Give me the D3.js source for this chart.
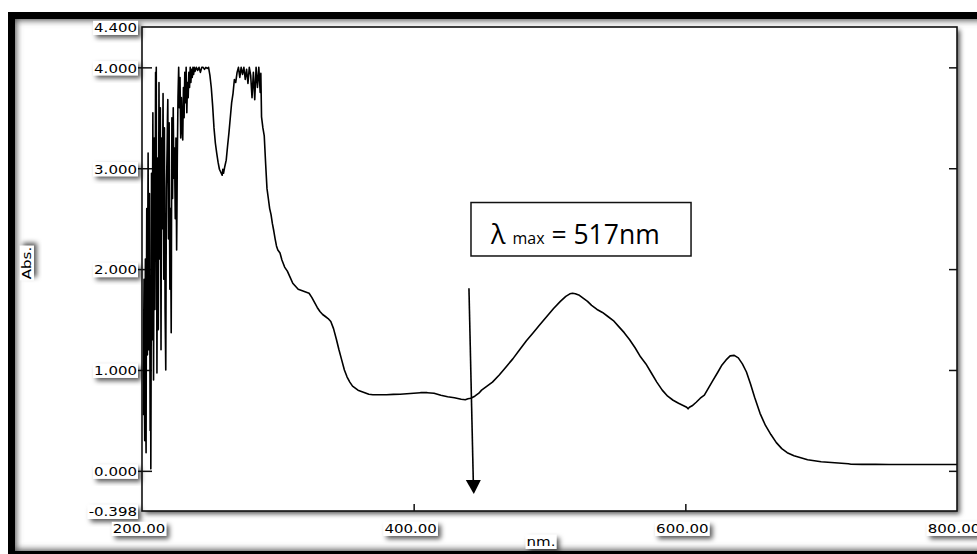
<!DOCTYPE html>
<html><head><meta charset="utf-8">
<script src="https://cdn.jsdelivr.net/npm/d3@7"></script>
<style>html,body{margin:0;padding:0;background:#fff;overflow:hidden}svg{display:block}</style>
</head><body>
<svg id="chart" width="977" height="554"></svg>
<script>
// UV-Vis absorption spectrum (wavelength in nm, absorbance)
// 201-226 nm: noisy, near-saturated region sampled every 0.25 nm
const wavelengthNm = [
  201.00,201.25,201.50,201.75,202.00,202.25,202.50,202.75,203.00,203.25,203.50,203.75,
  204.00,204.25,204.50,204.75,205.00,205.25,205.50,205.75,206.00,206.25,206.50,206.75,
  207.00,207.25,207.50,207.75,208.00,208.25,208.50,208.75,209.00,209.25,209.50,209.75,
  210.00,210.25,210.50,210.75,211.00,211.25,211.50,211.75,212.00,212.25,212.50,212.75,
  213.00,213.25,213.50,213.75,214.00,214.25,214.50,214.75,215.00,215.25,215.50,215.75,
  216.00,216.25,216.50,216.75,217.00,217.25,217.50,217.75,218.00,218.25,218.50,218.75,
  219.00,219.25,219.50,219.75,220.00,220.25,220.50,220.75,221.00,221.25,221.50,221.75,
  222.00,222.25,222.50,222.75,223.00,223.25,223.50,223.75,224.00,224.25,224.50,224.75,
  225.00,225.25,225.50,225.75,226.00,
  226.5,227.0,227.5,228.0,228.5,229.0,229.5,230.0,230.5,231.0,231.5,232.0,232.5,233.0,233.5,234.0,234.5,235.0,235.5,236.0,236.5,
  237.0,237.5,238.0,238.5,239.0,240,241,242,243,244,245,246,247,248,249,250,251,252,253,254,255,256,257,258,259,
  259.5,260,261,262,263,264,265,266,267,268,269,270,271,272,273,274,275,276,277,278,279,280,281,282,283,284,285,
  286,287,287.5,288,289,290,291,292,293,294,295,296,297,298,299,300,301.6,303,305,307,309,311,313,315,317,319,321,
  323,325,327,329,331,333,335,337,339,341,343,345,347,349,351,353,355,357,359,361,363,365,367,370,375,380,385,390,
  395,400,405,410,415,420,425,430,435,438,440,442,445,448,450,455,458,463,468,473,478,483,488,493,498,503,508,512,
  515,517,519,522,525,528,531,535,539,543,547,551,555,559,563,567,571,575,579,583,587,591,595,598,601,602,603,605,
  608,611,614,617,620,624,627,630,633,636,639,642,645,648,651,655,659,663,667,671,675,680,685,690,695,700,705,710,
  715,720,722,730,740,750,760,770,780,790,800
];
const absorbance = [
  0.55,1.40,1.90,0.80,0.30,1.20,2.10,0.60,0.18,1.70,2.60,1.80,
  1.15,2.40,3.15,2.00,1.20,2.30,2.75,1.50,0.40,1.90,0.02,1.20,
  2.95,2.10,1.30,2.60,3.55,2.20,0.90,2.00,3.30,2.50,1.60,2.80,
  3.95,3.40,4.00,2.30,0.97,2.00,3.10,2.60,1.40,2.70,3.85,3.00,
  2.10,3.10,3.60,2.40,1.20,2.50,3.30,2.90,2.40,3.20,3.74,2.80,
  1.90,2.90,3.40,2.50,1.60,1.30,1.00,2.00,2.80,3.00,3.20,3.50,
  3.68,2.90,2.30,3.00,3.45,2.60,1.80,2.20,2.60,2.00,1.37,2.50,
  3.50,3.10,2.70,3.20,3.60,3.20,2.90,3.10,3.20,2.80,2.50,2.90,
  3.30,2.70,2.19,2.60,3.10,
  3.70,4.00,3.60,3.90,3.30,3.70,3.40,3.28,3.80,3.50,3.95,3.65,4.00,3.55,3.85,3.70,3.95,3.80,4.00,3.85,3.98,
  3.90,4.00,3.93,4.00,3.96,4.00,3.97,4.00,3.95,4.00,4.00,3.98,4.00,3.99,4.00,3.92,3.80,3.62,3.40,3.25,3.15,3.06,2.99,2.96,2.93,
  2.99,2.95,3.02,3.08,3.22,3.35,3.50,3.65,3.74,3.88,3.85,3.95,4.00,3.90,4.00,3.93,4.00,3.88,3.98,3.84,4.00,3.92,3.70,3.95,3.68,4.00,3.80,
  4.00,3.75,3.94,3.51,3.40,3.32,3.05,2.80,2.70,2.60,2.54,2.45,2.38,2.30,2.23,2.19,2.16,2.09,2.02,1.98,1.92,1.86,1.83,1.80,1.79,1.78,1.77,
  1.76,1.72,1.67,1.62,1.58,1.55,1.53,1.51,1.48,1.41,1.31,1.20,1.10,1.00,0.93,0.88,0.84,0.82,0.80,0.79,0.78,0.77,0.76,0.755,0.755,0.755,0.758,0.76,
  0.765,0.77,0.775,0.775,0.77,0.75,0.735,0.725,0.71,0.705,0.715,0.72,0.74,0.77,0.80,0.85,0.88,0.95,1.03,1.11,1.20,1.29,1.37,1.45,1.53,1.61,1.68,1.73,
  1.755,1.76,1.755,1.74,1.71,1.68,1.64,1.60,1.57,1.53,1.49,1.43,1.37,1.30,1.22,1.13,1.06,0.97,0.88,0.80,0.74,0.70,0.67,0.65,0.63,0.615,0.63,0.645,
  0.68,0.72,0.75,0.82,0.89,0.98,1.05,1.10,1.14,1.145,1.12,1.06,0.98,0.86,0.73,0.57,0.45,0.36,0.28,0.22,0.18,0.15,0.13,0.11,0.10,0.09,0.085,0.08,
  0.075,0.07,0.065,0.064,0.064,0.063,0.063,0.063,0.063,0.063,0.063
];
const yTickValues = [4.4, 4.0, 3.0, 2.0, 1.0, 0.0, -0.398];
const yTickLabels = ["4.400", "4.000", "3.000", "2.000", "1.000", "0.000", "-0.398"];
const yInnerTicks = [4.0, 3.0, 2.0, 1.0, 0.0];
const xTickValues = [200, 400, 600, 800];
const xTickLabels = ["200.00", "400.00", "600.00", "800.00"];
const xInnerTicks = [400, 600];
const lambdaMax = 517;
// annotation box and arrow, in data units
const noteBox = {x0: 442.2, x1: 604.2, y0: 2.66, y1: 2.13};
const noteArrow = {x0: 440.7, y0: 1.81, x1: 443.9, y1: -0.10, tipY: -0.23};

const svg = d3.select("#chart");
const W = 977, H = 554;
const plot = {left: 142, right: 957, top: 27, bottom: 511};

const x = d3.scaleLinear().domain([200, 800]).range([plot.left, plot.right]);
const y = d3.scaleLinear().domain([-0.398, 4.4]).range([plot.bottom, plot.top]);

const defs = svg.append("defs");
const sh = defs.append("filter").attr("id", "shadow").attr("x", "-30%").attr("y", "-40%").attr("width", "160%").attr("height", "190%");
sh.append("feDropShadow").attr("dx", 3).attr("dy", 3).attr("stdDeviation", 2.5)
  .attr("flood-color", "#000").attr("flood-opacity", 0.65);
const bl = defs.append("filter").attr("id", "blur").attr("x", "-10%").attr("y", "-10%").attr("width", "120%").attr("height", "120%");
bl.append("feGaussianBlur").attr("stdDeviation", 3);
defs.append("clipPath").attr("id", "frameInside")
  .append("rect").attr("x", 15).attr("y", 19).attr("width", 1000).attr("height", 532);

svg.append("rect").attr("width", W).attr("height", H).attr("fill", "#fff");

// outer frame with a soft inner shadow
const frame = {x: 11.5, y: 15.5, w: 990, h: 539};
svg.append("g").attr("clip-path", "url(#frameInside)")
  .append("rect").attr("x", frame.x).attr("y", frame.y).attr("width", frame.w).attr("height", frame.h)
  .attr("fill", "none").attr("stroke", "#555").attr("stroke-width", 10).attr("filter", "url(#blur)");
svg.append("rect").attr("x", frame.x).attr("y", frame.y).attr("width", frame.w).attr("height", frame.h)
  .attr("fill", "none").attr("stroke", "#000").attr("stroke-width", 7);

// plot area
svg.append("rect").attr("x", plot.left).attr("y", plot.top)
  .attr("width", plot.right - plot.left).attr("height", plot.bottom - plot.top)
  .attr("fill", "#fff").attr("filter", "url(#shadow)");

// axes ticks
const axL = svg.append("g").attr("transform", `translate(${plot.left},0)`)
  .call(d3.axisLeft(y).tickValues(yInnerTicks).tickSize(5).tickFormat(""));
axL.selectAll(".tick line").attr("x1", -5).attr("x2", 10);
const axR = svg.append("g").attr("transform", `translate(${plot.right},0)`)
  .call(d3.axisRight(y).tickValues(yInnerTicks).tickSize(-8).tickFormat(""));
const axB = svg.append("g").attr("transform", `translate(0,${plot.bottom})`)
  .call(d3.axisBottom(x).tickValues(xInnerTicks).tickSize(-7).tickFormat(""));
[axL, axR, axB].forEach(a => {
  a.select(".domain").remove();
  a.selectAll(".tick line").attr("stroke", "#111").attr("stroke-width", 1.5);
});

// spectrum trace
const pts = wavelengthNm.map((w, i) => [w, absorbance[i]]);
svg.append("path").datum(pts)
  .attr("fill", "none").attr("stroke", "#000").attr("stroke-width", 1.6).attr("stroke-linejoin", "round")
  .attr("d", d3.line().x(d => x(d[0])).y(d => y(d[1])));

// plot border
svg.append("rect").attr("x", plot.left).attr("y", plot.top)
  .attr("width", plot.right - plot.left).attr("height", plot.bottom - plot.top)
  .attr("fill", "none").attr("stroke", "#111").attr("stroke-width", 1.6);

// label with white box and drop shadow
function boxedLabel(tx, ty, text, anchor, rotate) {
  const g = svg.append("g").attr("transform", `translate(${tx},${ty})` + (rotate ? ` rotate(${rotate})` : ""));
  g.append("text").attr("transform", "scale(1.25,1)")
    .attr("font-family", "DejaVu Sans, Verdana, sans-serif").attr("font-size", 12)
    .attr("fill", "#000").attr("text-anchor", anchor).attr("dy", "0.36em").text(text);
  const b = g.node().getBBox();
  g.insert("rect", "text").attr("x", b.x - 1).attr("y", b.y).attr("width", b.width + 2).attr("height", b.height)
    .attr("fill", "#fff").attr("filter", "url(#shadow)");
  return g;
}
yTickValues.forEach((v, i) => boxedLabel(plot.left - 5, y(v) + 1, yTickLabels[i], "end"));
xTickValues.forEach((v, i) => boxedLabel(x(v) - 3, plot.bottom + 18, xTickLabels[i], "middle"));
boxedLabel(541, 542, "nm.", "middle");
boxedLabel(27, 263, "Abs.", "middle", -90);

// lambda max annotation
svg.append("rect").attr("x", x(noteBox.x0)).attr("y", y(noteBox.y0))
  .attr("width", x(noteBox.x1) - x(noteBox.x0)).attr("height", y(noteBox.y1) - y(noteBox.y0))
  .attr("fill", "#fff").attr("stroke", "#111").attr("stroke-width", 1.5);
const note = svg.append("text").attr("x", x(noteBox.x0) + 20).attr("y", y(noteBox.y1) - 12)
  .attr("font-family", "Open Sans, sans-serif").attr("fill", "#000");
note.append("tspan").attr("font-size", 27).text("λ ");
note.append("tspan").attr("font-size", 16).text("max");
note.append("tspan").attr("font-size", 26.5).text(` = ${lambdaMax}nm`);

// arrow
svg.append("line").attr("x1", x(noteArrow.x0)).attr("y1", y(noteArrow.y0))
  .attr("x2", x(noteArrow.x1)).attr("y2", y(noteArrow.y1))
  .attr("stroke", "#000").attr("stroke-width", 1.6);
const ax1 = x(noteArrow.x1), ay1 = y(noteArrow.y1), tip = y(noteArrow.tipY);
svg.append("path").attr("d", `M${ax1 - 7.5},${ay1 - 1}L${ax1 + 7.5},${ay1 - 1}L${ax1 + 0.5},${tip}Z`).attr("fill", "#000");
</script>
</body></html>
